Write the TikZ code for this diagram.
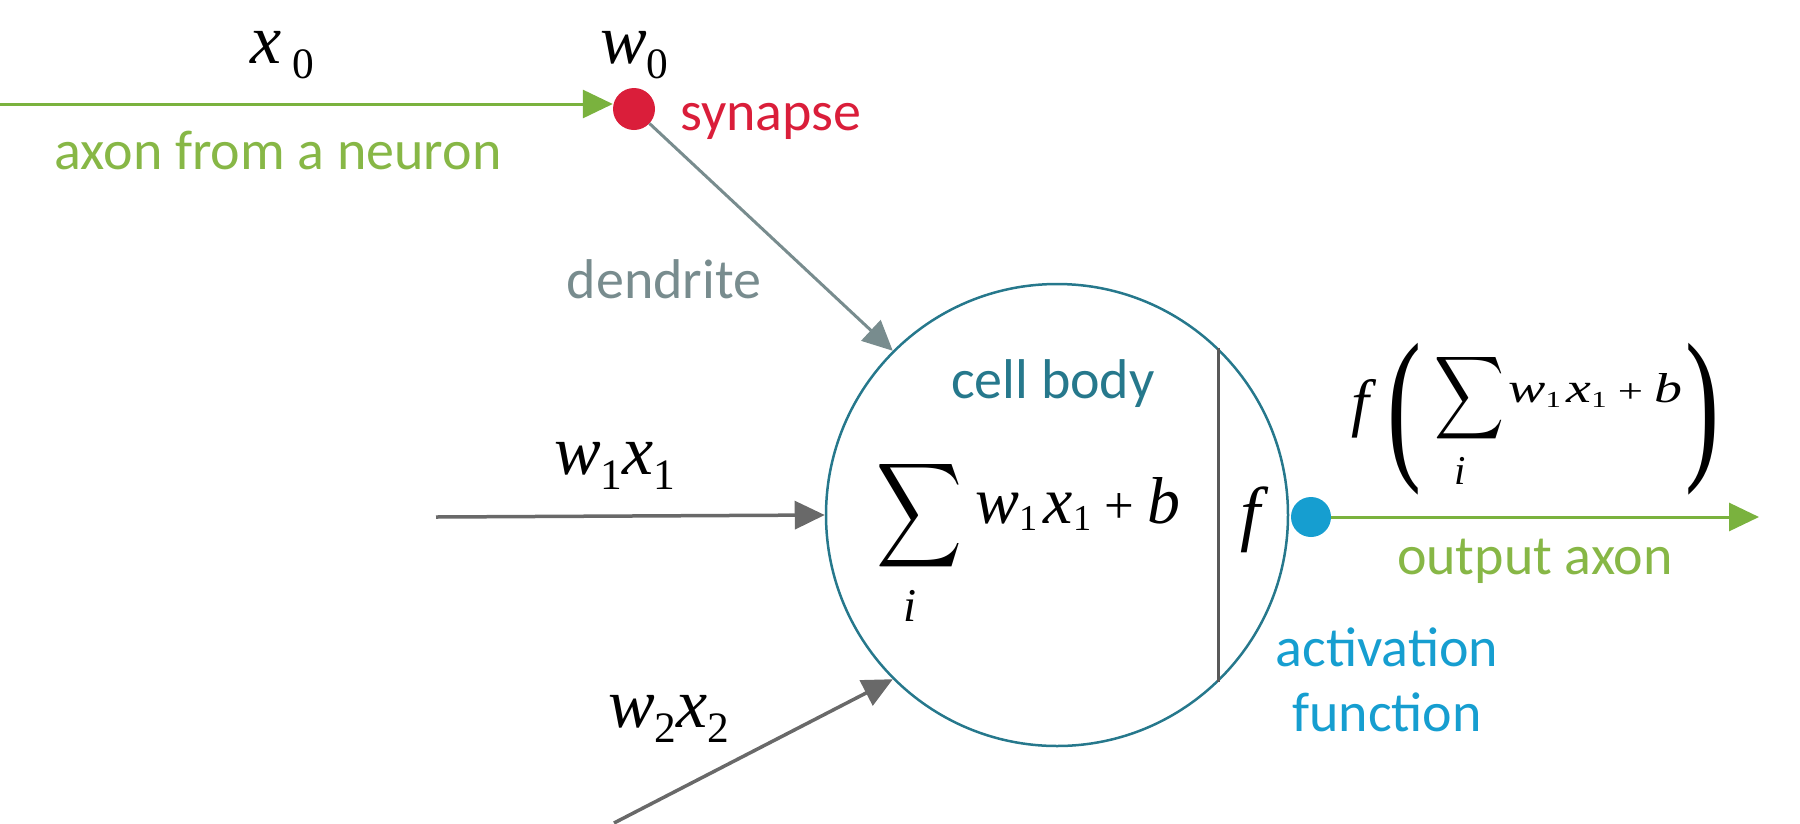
\documentclass[tikz,border=0pt]{standalone}
\usepackage{fontspec}
\setmainfont{Carlito}
\newfontfamily\tms{Liberation Serif}
\usetikzlibrary{arrows.meta}
\newcommand{\vi}[1]{{\tms\itshape #1}}
\newcommand{\sbs}[1]{\raisebox{-0.22em}{\scalebox{0.62}{\tms #1}}}
\newcommand{\sbt}[1]{\raisebox{-0.12em}{\scalebox{0.55}{\tms #1}}}
\newcommand{\tplus}{\scalebox{0.8}{\tms +}}
\newcommand{\wxb}{\vi{w}\sbt{1}\hspace{0.1em}\vi{x}\sbt{1}\hspace{0.2em}\tplus\hspace{0.2em}\vi{b}}
\newcommand{\bigpar}[1]{\resizebox*{34pt}{152pt}{\fontsize{100}{100}\selectfont\tms #1}}
\definecolor{axgreen}{RGB}{122,178,62}
\definecolor{txgreen}{RGB}{135,183,70}
\definecolor{synred}{RGB}{218,30,58}
\definecolor{cellteal}{RGB}{38,120,140}
\definecolor{actblue}{RGB}{22,158,208}
\definecolor{dendgray}{RGB}{120,140,142}
\definecolor{arrgray}{RGB}{105,105,105}
\tikzset{
  lbl/.style={font=\fontsize{56}{65}\selectfont, inner sep=0pt, anchor=base},
  mth/.style={font=\fontsize{70}{80}\selectfont, inner sep=0pt, anchor=base west},
  sym/.style={inner sep=0pt},
  dot/.style={circle, inner sep=0pt, minimum size=42pt},
  tip/.style={-{Triangle[length=30pt,width=28pt]}},
  axon/.style={tip, draw=axgreen, line width=3pt},
  inarrow/.style={tip, draw=arrgray, line width=3.5pt},
}
\begin{document}
\begin{tikzpicture}[x=1pt,y=-1pt]
\path[use as bounding box] (0,0) rectangle (1800,823);

% cell body
\node[circle, draw=cellteal, line width=2.5pt, minimum size=462pt, inner sep=0pt] (cell) at (1057,515) {};
\draw[draw=black!65, line width=2.5pt] (cell.46) -- (cell.-46);

% synapse and activation dots
\node[dot, fill=synred] (syn) at (634,109) {};
\node[dot, fill=actblue, minimum size=40pt] (act) at (1311,517) {};

% coordinates
\coordinate (a0) at (0,104);
\coordinate (in1) at (436,517);
\coordinate (in2) at (614,823);
\coordinate (out) at (1759,517);

% connectors
\draw[axon] (a0) -- (syn.west |- a0);
\draw[tip, draw=dendgray, line width=3pt] (syn) -- (cell.135);
\draw[inarrow] (in1) -- (cell.west);
\draw[inarrow] (in2) -- (cell.225);
\draw[axon] (act.east) -- (out);

% text labels
\node[lbl, text=txgreen] (axlbl) at (278,169) {axon from a neuron};
\node[lbl, text=synred, anchor=base west] (synlbl) at (680,130) {synapse};
\node[lbl, text=dendgray] (dlbl) at (664,298) {dendrite};
\node[lbl, text=cellteal] (cblbl) at (1053,398) {cell body};
\node[lbl, text=txgreen] (oalbl) at (1535,574) {output axon};
\node[lbl, text=actblue] (af1) at (1387,666) {activation};
\node[lbl, text=actblue] (af2) at (1387,731) {function};

% math labels
\node[mth] (x0) at (250,63) {\vi{x}\,\sbs{0}};
\node[mth] (w0) at (600,63) {\vi{w}\sbs{0}};
\node[mth] (w1x1) at (554,474) {\vi{w}\sbs{1}\vi{x}\sbs{1}};
\node[mth] (w2x2) at (608,727) {\vi{w}\sbs{2}\vi{x}\sbs{2}};

% formula inside the cell
\node[sym] (sig) at (920,516) {\resizebox*{86pt}{117pt}{$\displaystyle\sum$}};
\node[sym, font=\fontsize{47}{50}\selectfont] (sigi) at (910,606) {\vi{i}};
\node[sym, anchor=base west] (sigw) at (975,523) {\resizebox{205pt}{46pt}{\fontsize{66}{70}\selectfont\wxb}};
\node[sym, font=\fontsize{72}{80}\selectfont] (fin) at (1250,520) {\vi{f}};

% output formula
\node[sym, font=\fontsize{64}{70}\selectfont] (fout) at (1360,409) {\vi{f}};
\node[sym] (lp) at (1404,419) {\bigpar{(}};
\node[sym] (osig) at (1470,398) {\resizebox*{70pt}{93pt}{$\displaystyle\sum$}};
\node[sym, font=\fontsize{41}{44}\selectfont] (oi) at (1460,471) {\vi{i}};
\node[sym, anchor=base west] (osup) at (1508,402) {\resizebox{174pt}{29pt}{\fontsize{40}{44}\selectfont\wxb}};
\node[sym] (rp) at (1702,419) {\bigpar{)}};
\end{tikzpicture}
\end{document}
